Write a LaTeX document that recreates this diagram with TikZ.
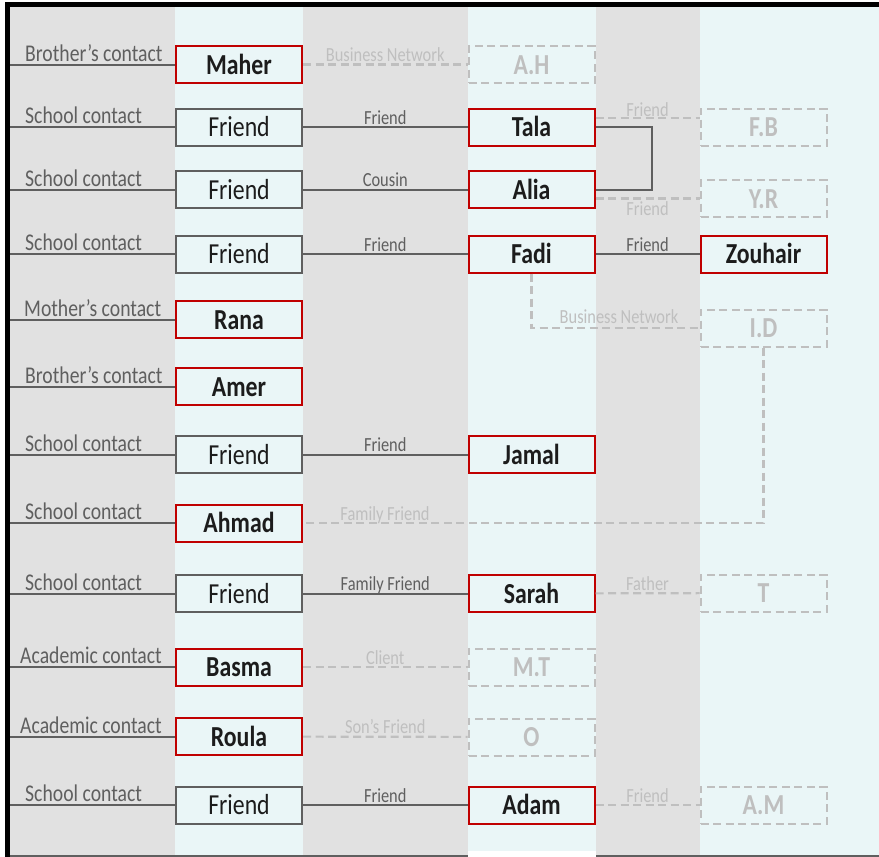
\documentclass[tikz,border=0pt]{standalone}
\usepackage{fontspec}
\setmainfont{Carlito}[FakeStretch=0.82]
\definecolor{bggray}{HTML}{E1E1E1}
\definecolor{bgcyan}{HTML}{EAF6F7}
\definecolor{lnk}{HTML}{5F5F5F}
\definecolor{fade}{HTML}{BFBFBF}
\definecolor{redb}{HTML}{C00000}
\definecolor{ink}{HTML}{1C1C1C}
\begin{document}
\begin{tikzpicture}[x=1pt,y=-1pt,
  box/.style={rectangle,minimum width=126pt,minimum height=37pt,inner sep=0pt,line width=2pt,fill=bgcyan,text height=19pt,text depth=0pt},
  namebox/.style={box,draw=redb,text=ink,font=\fontsize{29}{30}\selectfont\bfseries},
  friendbox/.style={box,draw=lnk,text=ink,font=\fontsize{29}{30}\selectfont},
  ghostbox/.style={box,draw=fade,dash pattern=on 8pt off 4.5pt,text=fade,font=\fontsize{29}{30}\selectfont\bfseries},
  link/.style={draw=lnk,line width=2pt},
  glink/.style={draw=fade,line width=2.2pt,dash pattern=on 8pt off 4.5pt},
  leftlab/.style={anchor=base west,inner sep=0pt,text=lnk,font=\fontsize{24}{25}\selectfont},
  midlab/.style={anchor=base,inner sep=0pt,yshift=3pt,text=lnk,font=\fontsize{20}{21}\selectfont},
  gmidlab/.style={midlab,text=fade}
]
\useasboundingbox (0,0) rectangle (879,857);
% background
\fill[white] (0,0) rectangle (879,857);
\fill[bggray] (10,7) rectangle (175,855);
\fill[bgcyan] (175,7) rectangle (302.5,855);
\fill[bggray] (302.5,7) rectangle (468,855);
\fill[bgcyan] (468,7) rectangle (596,851);
\fill[bggray] (596,7) rectangle (700,855);
\fill[bgcyan] (700,7) rectangle (879,855);
\fill[black] (5,2) rectangle (879,7);
\fill[black] (5,2) rectangle (10,857);
\draw[lnk,line width=1.5pt] (10,856) -- (468,856);
\draw[lnk,line width=1.5pt] (596,856) -- (879,856);

% column 1
\node[namebox]   (maher) at (239,64.5)  {Maher};
\node[friendbox] (f2)    at (239,127)   {Friend};
\node[friendbox] (f3)    at (239,189.5) {Friend};
\node[friendbox] (f4)    at (239,254)   {Friend};
\node[namebox]   (rana)  at (239,319.5) {Rana};
\node[namebox]   (amer)  at (239,386.5) {Amer};
\node[friendbox] (f7)    at (239,454.5) {Friend};
\node[namebox]   (ahmad) at (239,523)   {Ahmad};
\node[friendbox] (f9)    at (239,593.5) {Friend};
\node[namebox]   (basma) at (239,667)   {Basma};
\node[namebox]   (roula) at (239,736.5) {Roula};
\node[friendbox] (f12)   at (239,805)   {Friend};

% column 2
\node[ghostbox] (ah)    at (531.5,64.5)  {A.H};
\node[namebox]  (tala)  at (531.5,127)   {Tala};
\node[namebox]  (alia)  at (531.5,189.5) {Alia};
\node[namebox]  (fadi)  at (531.5,254)   {Fadi};
\node[namebox]  (jamal) at (531.5,454.5) {Jamal};
\node[namebox]  (sarah) at (531.5,593.5) {Sarah};
\node[ghostbox] (mt)    at (531.5,667)   {M.T};
\node[ghostbox] (o)     at (531.5,737)   {O};
\node[namebox]  (adam)  at (531.5,805)   {Adam};

% column 3
\node[ghostbox] (fb)      at (763.5,127)   {F.B};
\node[ghostbox] (yr)      at (763.5,198.5) {Y.R};
\node[namebox]  (zouhair) at (763.5,254)   {Zouhair};
\node[ghostbox] (id)      at (763.5,328)   {I.D};
\node[ghostbox] (t)       at (763.5,593)   {T};
\node[ghostbox] (am)      at (763.5,805)   {A.M};

% left edge coordinates
\coordinate (e1) at (10,64.5);
\coordinate (e2) at (10,127);
\coordinate (e3) at (10,189.5);
\coordinate (e4) at (10,254);
\coordinate (e5) at (10,319.5);
\coordinate (e6) at (10,386.5);
\coordinate (e7) at (10,454.5);
\coordinate (e8) at (10,523);
\coordinate (e9) at (10,593.5);
\coordinate (e10) at (10,667);
\coordinate (e11) at (10,736.5);
\coordinate (e12) at (10,805);

\draw[link] (e1) -- (maher.west);
\draw[link] (e2) -- (f2.west);
\draw[link] (e3) -- (f3.west);
\draw[link] (e4) -- (f4.west);
\draw[link] (e5) -- (rana.west);
\draw[link] (e6) -- (amer.west);
\draw[link] (e7) -- (f7.west);
\draw[link] (e8) -- (ahmad.west);
\draw[link] (e9) -- (f9.west);
\draw[link] (e10) -- (basma.west);
\draw[link] (e11) -- (roula.west);
\draw[link] (e12) -- (f12.west);

\node[leftlab] (ll1)  at (25,61)    {Brother’s contact};
\node[leftlab] (ll2)  at (25,123.5) {School contact};
\node[leftlab] (ll3)  at (25,186)   {School contact};
\node[leftlab] (ll4)  at (25,250.5) {School contact};
\node[leftlab] (ll5)  at (24,316)   {Mother’s contact};
\node[leftlab] (ll6)  at (25,383)   {Brother’s contact};
\node[leftlab] (ll7)  at (25,451)   {School contact};
\node[leftlab] (ll8)  at (25,519.5) {School contact};
\node[leftlab] (ll9)  at (25,590)   {School contact};
\node[leftlab] (ll10) at (20,663.5) {Academic contact};
\node[leftlab] (ll11) at (20,733)   {Academic contact};
\node[leftlab] (ll12) at (25,801.5) {School contact};

% column 1 -> column 2
\draw[glink] (maher) -- node[gmidlab] (m1) {Business Network} (ah);
\draw[link]  (f2) -- node[midlab] (m2) {Friend} (tala);
\draw[link]  (f3) -- node[midlab] (m3) {Cousin} (alia);
\draw[link]  (f4) -- node[midlab] (m4) {Friend} (fadi);
\draw[link]  (f7) -- node[midlab] (m7) {Friend} (jamal);
\draw[link]  (f9) -- node[midlab] (m9) {Family Friend} (sarah);
\draw[glink] (basma) -- node[gmidlab] (m10) {Client} (mt);
\draw[glink] (roula) -- node[gmidlab] (m11) {Son’s Friend} (o);
\draw[link]  (f12) -- node[midlab] (m12) {Friend} (adam);

% column 2 -> column 3
\draw[link] (tala.east) -- ++(56,0) |- (alia.east);
\draw[glink] ([yshift=9pt]tala.east) -- node[gmidlab,yshift=-1pt] (n2) {Friend} ([yshift=9pt]fb.west);
\draw[glink] (alia.east |- yr.west) -- node[gmidlab,yshift=-20pt] (n3) {Friend} (yr.west);
\draw[link] (fadi) -- node[midlab] (n4) {Friend} (zouhair);
\draw[glink] (fadi.south) |- (id.west);
\node[gmidlab,yshift=2pt] (n5) at (619,328) {Business Network};
\draw[glink] (id.south) |- (ahmad.east);
\node[gmidlab] (m8) at (385,523) {Family Friend};
\draw[glink] (sarah) -- node[gmidlab] (n9) {Father} (t);
\draw[glink] (adam) -- node[gmidlab] (n12) {Friend} (am);
\end{tikzpicture}
\end{document}
